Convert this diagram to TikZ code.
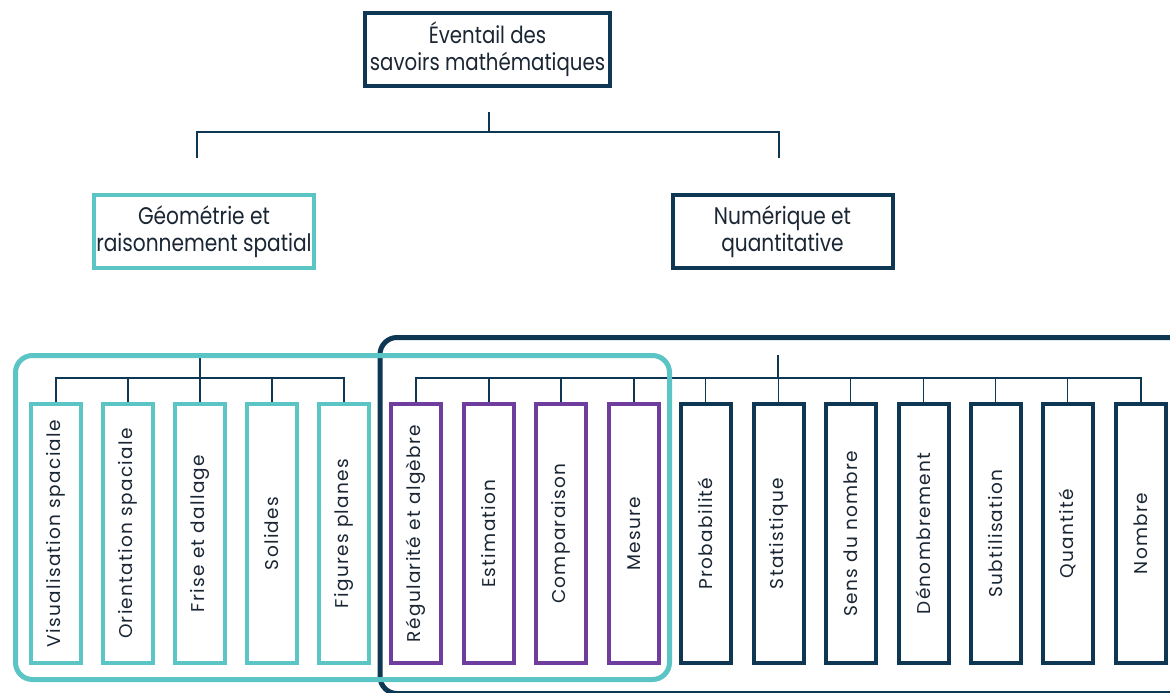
\documentclass[tikz,border=0pt]{standalone}
\usepackage{fontspec}
\setmainfont{Poppins}
\newfontfamily\condfont[FakeStretch=0.84]{Poppins}
\newfontfamily\leaffont[LetterSpace=7]{Poppins}
\usetikzlibrary{positioning}
\definecolor{teal}{HTML}{5BC4C4}
\definecolor{navy}{HTML}{0E3754}
\definecolor{purp}{HTML}{6E3D9E}
\definecolor{txt}{HTML}{1A2633}
\tikzset{
  headbox/.style={draw=navy, line width=4pt, inner sep=0pt, minimum width=245pt, minimum height=73pt, align=center, text=txt, font=\condfont\fontsize{23.5}{27}\selectfont},
  midbox/.style={line width=4pt, inner sep=0pt, minimum width=220pt, minimum height=73pt, align=center, text=txt, font=\condfont\fontsize{24}{27}\selectfont},
  leaf/.style={line width=4pt, inner sep=0pt, minimum width=50pt, minimum height=259pt, text=txt, font=\leaffont\fontsize{18.5}{20}\selectfont},
  tline/.style={draw=navy, line width=1.1pt},
  frame/.style={line width=5pt, rounded corners=17pt}
}
\begin{document}
\begin{tikzpicture}[x=1pt,y=-1pt]
\useasboundingbox (0,0) rectangle (1170,693);
\fill[white] (0,0) rectangle (1170,693);

% top
\node[headbox] (top) at (487.5,49.5) {Éventail des\\savoirs mathématiques};
\node[midbox, draw=teal] (geo) at (204,231.5) {Géométrie et\\raisonnement spatial};
\node[midbox, draw=navy] (num) at (782.5,231.5) {Numérique et\\quantitative};

\coordinate (ttop) at (489,112);
\coordinate (tbar) at (489,132);
\coordinate (tl) at (197,158);
\coordinate (tr) at (779,158);
\draw[tline] (ttop) -- (tbar);
\draw[tline] (tl) |- (tbar);
\draw[tline] (tr) |- (tbar);

% left leaves
\foreach \n/\x/\t in {g1/56/Visualisation spaciale, g2/128/Orientation spaciale, g3/200/Frise et dallage, g4/272/Solides, g5/344/Figures planes}{
  \node[leaf, draw=teal] (\n) at (\x,533.5) {\rotatebox{90}{\t}};
}
% right leaves
\foreach \n/\x/\t/\c in {r1/416/Régularité et algèbre/purp, r2/489/Estimation/purp, r3/561/Comparaison/purp, r4/634/Mesure/purp, r5/705.5/Probabilité/navy, r6/778.5/Statistique/navy, r7/850.5/Sens du nombre/navy, r8/923.5/Dénombrement/navy, r9/995.5/Subtilisation/navy, r10/1067.5/Quantité/navy, r11/1141/Nombre/navy}{
  \node[leaf, draw=\c] (\n) at (\x,533.5) {\rotatebox{90}{\t}};
}

% trees
\coordinate (gtop) at (200,358);
\coordinate (gbar) at (200,378);
\draw[tline] (gtop) -- (gbar);
\foreach \n in {g1,g2,g3,g4,g5}{\draw[tline] (\n.north) |- (gbar);}
\coordinate (ntop) at (778,355);
\coordinate (nbar) at (778,378);
\draw[tline] (ntop) -- (nbar);
\foreach \n in {r1,r2,r3,r4,r5,r6,r7,r8,r9,r10,r11}{\draw[tline] (\n.north) |- (nbar);}

% frames
\draw[frame, draw=navy] (380,337.5) rectangle (1190,693.5);
\draw[frame, draw=teal] (15.5,355.5) rectangle (669.5,679.5);
\end{tikzpicture}
\end{document}
